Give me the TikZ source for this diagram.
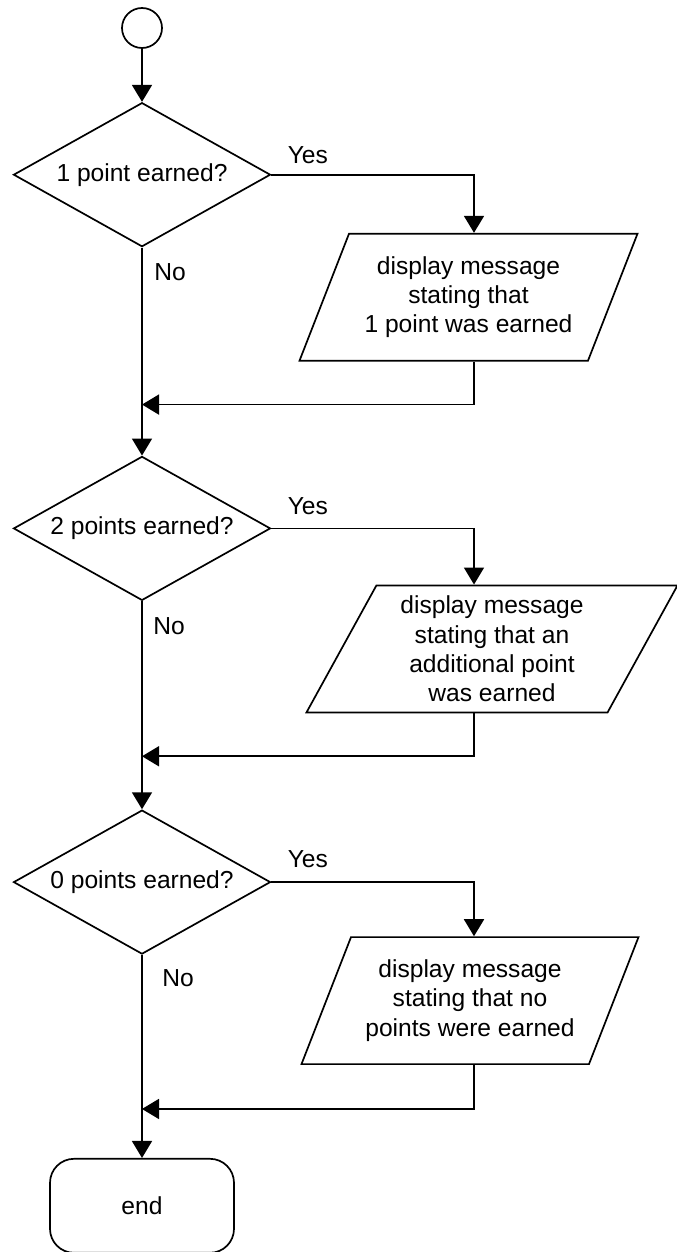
\documentclass[tikz,border=0pt]{standalone}
\usepackage{fontspec}
\setmainfont{Liberation Sans}
\usetikzlibrary{shapes.geometric, arrows.meta, positioning}
\tikzset{
    startcircle/.style={circle, draw=black, line width=0.85pt, minimum size=20pt, inner sep=0pt},
    decision/.style={diamond, draw=black, line width=0.85pt, aspect=1.785, minimum width=128.5pt, minimum height=72pt, inner sep=0pt, text centered},
    iobox/.style={trapezium, trapezium left angle=61, trapezium right angle=119, trapezium stretches body, draw=black, line width=0.85pt, minimum height=63.5pt, align=center, inner sep=2pt},
    terminal/.style={rectangle, rounded corners=12pt, draw=black, line width=0.85pt, minimum width=92pt, minimum height=47pt},
    arrow/.style={-{Triangle[length=8.5pt, width=10pt]}, line width=0.85pt},
    answer/.style={inner sep=0pt},
}

\begin{document}
\begin{tikzpicture}[font=\fontsize{12.3pt}{14.6pt}\selectfont]
        \useasboundingbox (0,0) rectangle (338pt,-626pt);
        % Start
        \node[startcircle] (start) at (71pt,-14pt) {};
        \coordinate (br) at (237pt,0);

        % First check
        \node[decision, below=26.5pt of start] (d1) {1 point earned?};
        \node[iobox, minimum width=169pt, xshift=163.25pt, yshift=-61.25pt] (p1) at (d1) {display message\\stating that\\1 point was earned};
        \coordinate[below=21.5pt of p1.south] (r1);

        % Second check
        \node[decision, below=104pt of d1] (d2) {2 points earned?};
        \node[iobox, minimum width=185.5pt, trapezium left angle=58.4, trapezium right angle=121.6, xshift=175pt, yshift=-60.25pt] (p2) at (d2) {display message\\stating that an\\additional point\\was earned};
        \coordinate[below=21.5pt of p2.south] (r2);

        % Third check
        \node[decision, below=104pt of d2] (d3) {0 points earned?};
        \node[iobox, minimum width=168.5pt, xshift=164pt, yshift=-59.25pt] (p3) at (d3) {display message\\stating that no\\points were earned};
        \coordinate[below=22pt of p3.south] (r3);

        % End
        \node[terminal, below=101.5pt of d3] (finish) {end};

        % Answers
        \node[answer, above right=5.5pt and 8pt of d1.east] (y1) {Yes};
        \node[answer, below right=8pt and 6pt of d1.south] (n1) {No};
        \node[answer, above right=6.5pt and 8pt of d2.east] (y2) {Yes};
        \node[answer, below right=8pt and 5.5pt of d2.south] (n2) {No};
        \node[answer, above right=7pt and 8pt of d3.east] (y3) {Yes};
        \node[answer, below right=7pt and 10pt of d3.south] (n3) {No};

        % Arrows
        \draw[arrow] (start) -- (d1);
        \draw[arrow] (d1.east) -| (p1.north -| br);
        \draw[arrow] (p1.south -| br) |- (d1.south |- r1);
        \draw[arrow] (d1) -- (d2);
        \draw[arrow] (d2.east) -| (p2.north -| br);
        \draw[arrow] (p2.south -| br) |- (d2.south |- r2);
        \draw[arrow] (d2) -- (d3);
        \draw[arrow] (d3.east) -| (p3.north -| br);
        \draw[arrow] (p3.south -| br) |- (d3.south |- r3);
        \draw[arrow] (d3) -- (finish);
    \end{tikzpicture}
\end{document}
